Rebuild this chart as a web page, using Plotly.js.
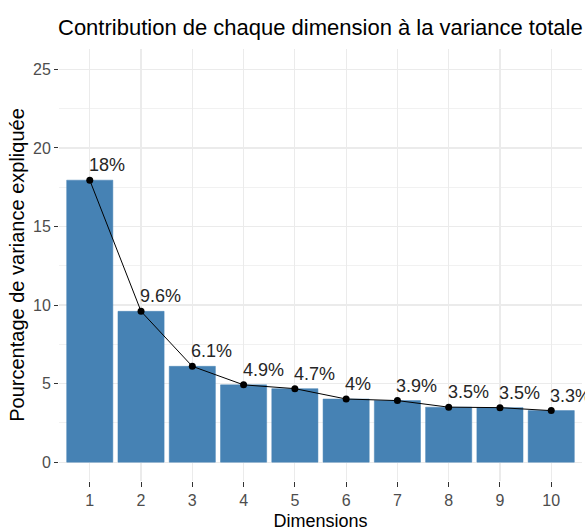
<!DOCTYPE html>
<html>
<head>
<meta charset="utf-8">
<script src="https://cdn.plot.ly/plotly-3.0.1.min.js"></script>
<style>html,body{margin:0;padding:0;background:#fff;}#chart{width:585px;height:531px;}</style>
</head>
<body>
<div id="chart"></div>
<script>
const dimensions = [1, 2, 3, 4, 5, 6, 7, 8, 9, 10];
const variancePct = [17.95, 9.6, 6.1, 4.92, 4.68, 4.02, 3.92, 3.5, 3.47, 3.28];
const labelText = ["18%", "9.6%", "6.1%", "4.9%", "4.7%", "4%", "3.9%", "3.5%", "3.5%", "3.3%"];
const yTicks = [0, 5, 10, 15, 20, 25];

const FONT = "Liberation Sans, Arial, sans-serif";

const bars = {
  type: "bar",
  x: dimensions,
  y: variancePct,
  width: 0.9,
  marker: {color: "#4682B4", line: {color: "#4682B4", width: 0.5}},
  hoverinfo: "skip",
  showlegend: false
};
const line = {
  type: "scatter",
  mode: "lines+markers",
  x: dimensions,
  y: variancePct,
  line: {color: "#000000", width: 1},
  marker: {color: "#000000", size: 7},
  showlegend: false,
  cliponaxis: false
};

const annotations = dimensions.map((d, i) => ({
  x: d, y: variancePct[i], xref: "x", yref: "y",
  text: labelText[i], showarrow: false,
  xanchor: "left", yanchor: "bottom",
  xshift: -3, yshift: 3,
  font: {family: FONT, size: 18, color: "#262626"}
}));

const layout = {
  width: 585, height: 531,
  margin: {l: 59, r: 3, t: 49, b: 50},
  paper_bgcolor: "#ffffff",
  plot_bgcolor: "#ffffff",
  font: {family: FONT},
  title: {
    text: "Contribution de chaque dimension à la variance totale",
    xref: "container", yref: "container",
    x: 58/585, xanchor: "left",
    y: 1 - 27/531, yanchor: "middle",
    font: {family: FONT, size: 22, color: "#000000"}
  },
  xaxis: {
    range: [0.4, 10.6],
    tickmode: "array", tickvals: dimensions, ticktext: dimensions.map(String),
    showgrid: true, gridcolor: "#EBEBEB", gridwidth: 1.2,
    zeroline: false, showline: false,
    ticks: "outside", ticklen: 5, tickcolor: "#333333", tickwidth: 1,
    tickfont: {family: FONT, size: 16, color: "#4D4D4D"},
    title: {text: "Dimensions", font: {family: FONT, size: 18, color: "#000000"}, standoff: 7},
    automargin: false,
    fixedrange: true
  },
  yaxis: {
    range: [-1.2, 26.3],
    tickmode: "array", tickvals: yTicks,
    showgrid: true, gridcolor: "#EBEBEB", gridwidth: 1.2,
    minor: {tickmode: "array", tickvals: [2.5, 7.5, 12.5, 17.5, 22.5], showgrid: true, gridcolor: "#EBEBEB", gridwidth: 0.7, ticks: ""},
    zeroline: false, showline: false,
    ticks: "outside", ticklen: 4, tickcolor: "#333333", tickwidth: 1,
    tickfont: {family: FONT, size: 16, color: "#4D4D4D"},
    title: {text: "Pourcentage de variance expliquée", font: {family: FONT, size: 20, color: "#000000"}, standoff: 3},
    automargin: false,
    fixedrange: true
  },
  bargap: 0,
  annotations: annotations
};

Plotly.newPlot("chart", [bars, line], layout, {displayModeBar: false, staticPlot: true});
</script>
</body>
</html>
